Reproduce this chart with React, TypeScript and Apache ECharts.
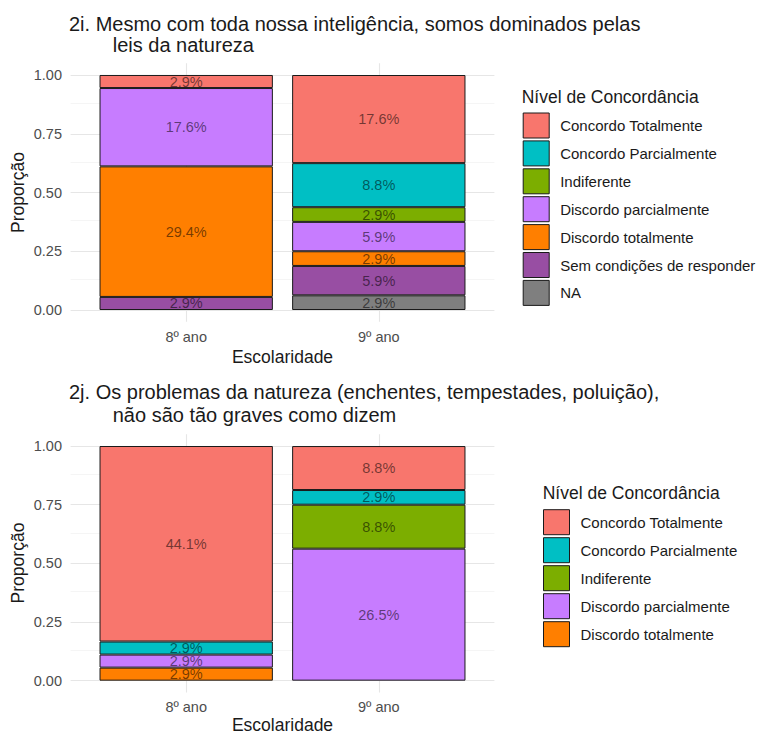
import React, { useEffect, useRef } from 'react';
import * as echarts from 'echarts';

const categories = ['8º ano', '9º ano'];
const categoryPositions = [1, 2];
const levels = [
  'Concordo Totalmente',
  'Concordo Parcialmente',
  'Indiferente',
  'Discordo parcialmente',
  'Discordo totalmente',
  'Sem condições de responder',
  'NA',
];
const levelColors = ['#F8766D', '#00BFC4', '#7CAE00', '#C77CFF', '#FF7F00', '#984EA3', '#7F7F7F'];

// proportions within each school year, per level: [8º ano, 9º ano]
const proportions2i: (number | null)[][] = [
  [0.0556, 0.375],
  [null, 0.1875],
  [null, 0.0625],
  [0.3333, 0.125],
  [0.5556, 0.0625],
  [0.0556, 0.125],
  [null, 0.0625],
];
const labels2i: (string | null)[][] = [
  ['2.9%', '17.6%'],
  [null, '8.8%'],
  [null, '2.9%'],
  ['17.6%', '5.9%'],
  ['29.4%', '2.9%'],
  ['2.9%', '5.9%'],
  [null, '2.9%'],
];
const proportions2j: (number | null)[][] = [
  [0.8333, 0.1875],
  [0.0556, 0.0625],
  [null, 0.1875],
  [0.0556, 0.5625],
  [0.0556, null],
];
const labels2j: (string | null)[][] = [
  ['44.1%', '8.8%'],
  ['2.9%', '2.9%'],
  [null, '8.8%'],
  ['2.9%', '26.5%'],
  ['2.9%', null],
];
const yTicks = [0, 0.25, 0.5, 0.75, 1];
const yMinorTicks = [0.125, 0.375, 0.625, 0.875];
const title2i = ['2i. Mesmo com toda nossa inteligência, somos dominados pelas', 'leis da natureza'];
const title2j = ['2j. Os problemas da natureza (enchentes, tempestades, poluição),', 'não são tão graves como dizem'];
const legendTitle = 'Nível de Concordância';
const yTitle = 'Proporção';
const xTitle = 'Escolaridade';

const FONT = '"Liberation Sans", Arial, Helvetica, sans-serif';

const panels = [
  { top: 63.25, height: 258.5, labelMargin: 8, legendTop: 112.5, legendLeft: 522.7, legendGap: 1.9, legendTitleX: 521.7, legendTitleY: 96.7, titleY: [24, 45], xTitleY: 357, yTitleY: 192.5 },
  { top: 434.3, height: 258.1, labelMargin: 7, legendTop: 509.2, legendLeft: 543, legendGap: 2, legendTitleX: 542.7, legendTitleY: 493, titleY: [392.3, 414.7], xTitleY: 724.5, yTitleY: 563 },
];
// outer panel (gridlines, axis labels) spans the expanded discrete range 0.4..2.6
const GRID_LEFT = 70.6;
const GRID_WIDTH = 423.8;
// inner panel (bars) spans the two category bands 0.5..2.5
const BAR_GRID_LEFT = 89.9;
const BAR_GRID_WIDTH = 385.2;

function buildBarSeries(k: number, props: (number | null)[][], labels: (string | null)[][]) {
  const out: any[] = [];
  for (let L = props.length - 1; L >= 0; L--) {
    out.push({
      type: 'bar',
      name: levels[L],
      xAxisIndex: 2 * k + 1,
      yAxisIndex: 2 * k + 1,
      stack: 'stack' + k,
      barWidth: '90%',
      z: 3,
      itemStyle: { color: levelColors[L], borderColor: '#1a1a1a', borderWidth: 1 },
      label: {
        show: true,
        position: 'inside',
        color: 'rgba(0,0,0,0.55)',
        fontSize: 14.5,
        fontFamily: FONT,
        formatter: (p: any) => labels[L][p.dataIndex] ?? '',
      },
      emphasis: { disabled: true },
      data: props[L].map((v) => (v == null ? '-' : v)),
    });
  }
  return out;
}

function buildGridSeries(k: number) {
  const major = { color: '#e6e6e6', width: 1.1, type: 'solid' };
  const minor = { color: '#efefef', width: 0.6, type: 'solid' };
  return {
    type: 'line',
    name: 'grade' + k,
    xAxisIndex: 2 * k,
    yAxisIndex: 2 * k,
    data: [],
    z: 1,
    silent: true,
    markLine: {
      silent: true,
      z: 1,
      symbol: ['none', 'none'],
      label: { show: false },
      emphasis: { disabled: true },
      animation: false,
      data: [
        ...yMinorTicks.map((v) => ({ yAxis: v, lineStyle: minor })),
        ...yTicks.map((v) => ({ yAxis: v, lineStyle: major })),
        ...categoryPositions.map((v) => ({ xAxis: v, lineStyle: major })),
      ],
    },
  };
}

export default function App() {
  const ref = useRef<HTMLDivElement>(null);
  useEffect(() => {
    if (!ref.current) return;
    const chart = echarts.init(ref.current, null, { renderer: 'svg' });
    const graphic: any[] = [];
    const titles = [title2i, title2j];
    panels.forEach((p, k) => {
      graphic.push({ type: 'text', x: 69, y: p.titleY[0], style: { text: titles[k][0], font: `20px ${FONT}`, fill: '#1a1a1a', textVerticalAlign: 'middle', textAlign: 'left' } });
      graphic.push({ type: 'text', x: 112.7, y: p.titleY[1], style: { text: titles[k][1], font: `20px ${FONT}`, fill: '#1a1a1a', textVerticalAlign: 'middle', textAlign: 'left' } });
      graphic.push({ type: 'text', x: p.legendTitleX, y: p.legendTitleY, style: { text: legendTitle, font: `17.5px ${FONT}`, fill: '#1a1a1a', textVerticalAlign: 'middle', textAlign: 'left' } });
      graphic.push({ type: 'text', x: GRID_LEFT + GRID_WIDTH / 2, y: p.xTitleY, style: { text: xTitle, font: `17.5px ${FONT}`, fill: '#1a1a1a', textVerticalAlign: 'middle', textAlign: 'center' } });
      graphic.push({ type: 'text', x: 18, y: p.yTitleY, rotation: Math.PI / 2, style: { text: yTitle, font: `17.5px ${FONT}`, fill: '#1a1a1a', textVerticalAlign: 'middle', textAlign: 'center' } });
    });

    const grids: any[] = [];
    const xAxes: any[] = [];
    const yAxes: any[] = [];
    panels.forEach((p, k) => {
      grids.push({ left: GRID_LEFT, width: GRID_WIDTH, top: p.top, height: p.height });
      grids.push({ left: BAR_GRID_LEFT, width: BAR_GRID_WIDTH, top: p.top, height: p.height });
      xAxes.push({
        type: 'value',
        gridIndex: 2 * k,
        min: 0.4,
        max: 2.6,
        axisLine: { show: false },
        axisTick: { show: false },
        splitLine: { show: false },
        axisLabel: {
          customValues: categoryPositions,
          formatter: (v: number) => categories[categoryPositions.indexOf(Math.round(v))] ?? '',
          color: '#4d4d4d',
          fontSize: 14.5,
          fontFamily: FONT,
          margin: p.labelMargin,
        },
      });
      xAxes.push({
        type: 'category',
        gridIndex: 2 * k + 1,
        data: categories,
        show: false,
        boundaryGap: true,
      });
      yAxes.push({
        type: 'value',
        gridIndex: 2 * k,
        min: -0.05,
        max: 1.05,
        axisLine: { show: false },
        axisTick: { show: false },
        splitLine: { show: false },
        axisLabel: {
          customValues: yTicks,
          formatter: (v: number) => v.toFixed(2),
          color: '#4d4d4d',
          fontSize: 14.5,
          fontFamily: FONT,
          margin: 8.6,
        },
      });
      yAxes.push({
        type: 'value',
        gridIndex: 2 * k + 1,
        min: -0.05,
        max: 1.05,
        show: false,
        splitLine: { show: false },
      });
    });

    const option: any = {
      animation: false,
      backgroundColor: '#ffffff',
      grid: grids,
      xAxis: xAxes,
      yAxis: yAxes,
      legend: panels.map((p, k) => ({
        orient: 'vertical',
        left: p.legendLeft,
        top: p.legendTop,
        padding: 0,
        itemWidth: 26,
        itemHeight: 25,
        itemGap: p.legendGap,
        icon: 'rect',
        selectedMode: false,
        data: levels.slice(0, k === 0 ? proportions2i.length : proportions2j.length),
        itemStyle: { borderColor: '#1a1a1a', borderWidth: 1 },
        textStyle: { fontSize: 15, color: '#1a1a1a', fontFamily: FONT, padding: [0, 0, 0, 6] },
      })),
      series: [
        buildGridSeries(0),
        buildGridSeries(1),
        ...buildBarSeries(0, proportions2i, labels2i),
        ...buildBarSeries(1, proportions2j, labels2j),
      ],
      graphic,
    };
    chart.setOption(option);
    return () => chart.dispose();
  }, []);
  return <div ref={ref} style={{ position: 'fixed', left: 0, top: 0, width: 763, height: 733, background: '#fff' }} />;
}
